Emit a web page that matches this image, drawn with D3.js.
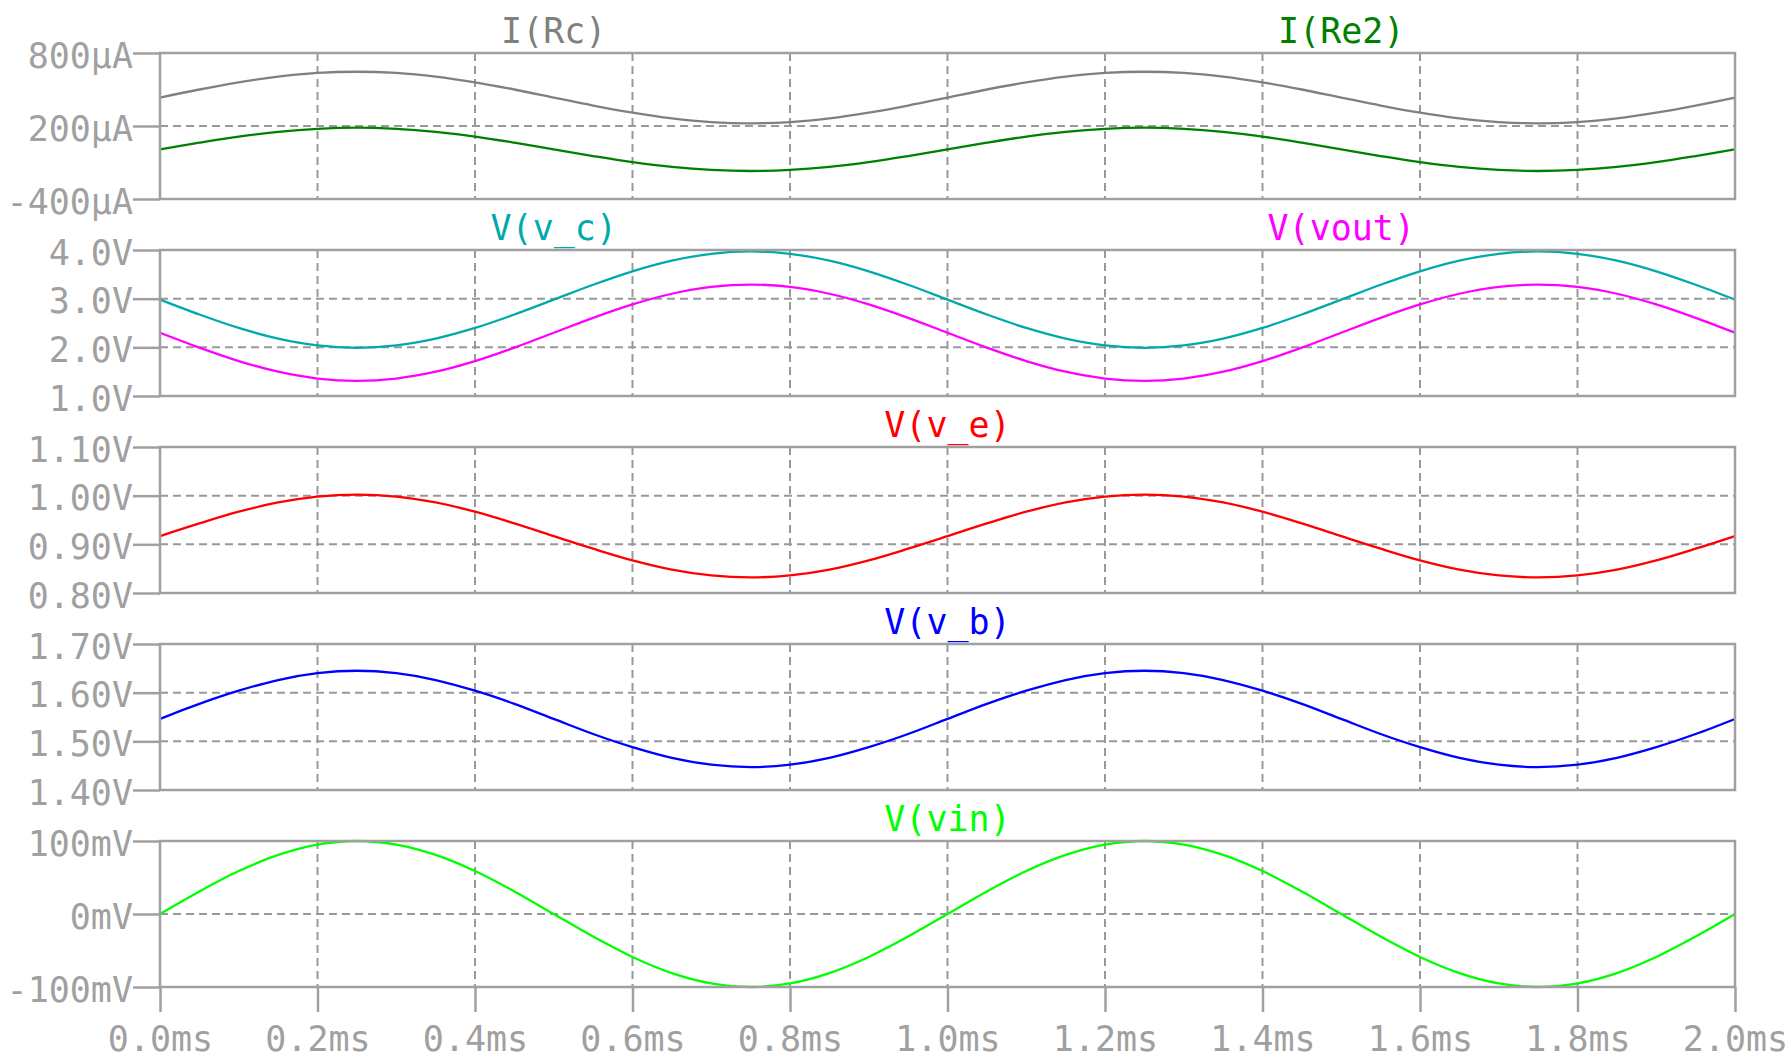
<!DOCTYPE html>
<html><head><meta charset="utf-8">
<script src="https://cdn.jsdelivr.net/npm/d3@7"></script>
<style>
html,body{margin:0;padding:0;background:#fff;}
svg{display:block;}
text{font-family:"DejaVu Sans Mono","Liberation Mono",monospace;}
</style></head>
<body>
<svg id="chart" width="1791" height="1059"></svg>
<script>
// time axis (ms)
const time = [0,0.05,0.1,0.15,0.2,0.25,0.3,0.35,0.4,0.45,0.5,0.55,0.6,0.65,0.7,0.75,0.8,0.85,0.9,0.95,
  1.0,1.05,1.1,1.15,1.2,1.25,1.3,1.35,1.4,1.45,1.5,1.55,1.6,1.65,1.7,1.75,1.8,1.85,1.9,1.95,2.0];
const xTicks = [0,0.2,0.4,0.6,0.8,1.0,1.2,1.4,1.6,1.8,2.0];
const xTickLabels = ["0.0ms","0.2ms","0.4ms","0.6ms","0.8ms","1.0ms","1.2ms","1.4ms","1.6ms","1.8ms","2.0ms"];

// I(Rc) in µA
const iRc = [434,500,559,606,636,646,636,606,559,500,434,368,309,262,232,222,232,262,309,368,
  434,500,559,606,636,646,636,606,559,500,434,368,309,262,232,222,232,262,309,368,434];
// I(Re2) in µA
const iRe2 = [8,63,113,152,177,186,177,152,113,63,8,-47,-97,-136,-161,-170,-161,-136,-97,-47,
  8,63,113,152,177,186,177,152,113,63,8,-47,-97,-136,-161,-170,-161,-136,-97,-47,8];
// V(v_c) in V
const vC = [2.98,2.674,2.398,2.179,2.039,1.99,2.039,2.179,2.398,2.674,2.98,3.286,3.562,3.781,3.921,3.97,3.921,3.781,3.562,3.286,
  2.98,2.674,2.398,2.179,2.039,1.99,2.039,2.179,2.398,2.674,2.98,3.286,3.562,3.781,3.921,3.97,3.921,3.781,3.562,3.286,2.98];
// V(vout) in V
const vOut = [2.30,1.994,1.718,1.499,1.359,1.31,1.359,1.499,1.718,1.994,2.30,2.606,2.882,3.101,3.241,3.29,3.241,3.101,2.882,2.606,
  2.30,1.994,1.718,1.499,1.359,1.31,1.359,1.499,1.718,1.994,2.30,2.606,2.882,3.101,3.241,3.29,3.241,3.101,2.882,2.606,2.30];
// V(v_e) in V
const vE = [0.917,0.943,0.967,0.986,0.998,1.002,0.998,0.986,0.967,0.943,0.917,0.891,0.867,0.848,0.836,0.832,0.836,0.848,0.867,0.891,
  0.917,0.943,0.967,0.986,0.998,1.002,0.998,0.986,0.967,0.943,0.917,0.891,0.867,0.848,0.836,0.832,0.836,0.848,0.867,0.891,0.917];
// V(v_b) in V
const vB = [1.546,1.577,1.604,1.626,1.640,1.645,1.640,1.626,1.604,1.577,1.546,1.515,1.488,1.466,1.452,1.447,1.452,1.466,1.488,1.515,
  1.546,1.577,1.604,1.626,1.640,1.645,1.640,1.626,1.604,1.577,1.546,1.515,1.488,1.466,1.452,1.447,1.452,1.466,1.488,1.515,1.546];
// V(vin) in mV
const vIn = [0,30.9,58.8,80.9,95.1,100,95.1,80.9,58.8,30.9,0,-30.9,-58.8,-80.9,-95.1,-100,-95.1,-80.9,-58.8,-30.9,
  0,30.9,58.8,80.9,95.1,100,95.1,80.9,58.8,30.9,0,-30.9,-58.8,-80.9,-95.1,-100,-95.1,-80.9,-58.8,-30.9,0];

// panel tick values and labels
const p1Ticks = [800,200,-400], p1Labels = ["800µA","200µA","-400µA"];
const p2Ticks = [4,3,2,1], p2Labels = ["4.0V","3.0V","2.0V","1.0V"];
const p3Ticks = [1.1,1.0,0.9,0.8], p3Labels = ["1.10V","1.00V","0.90V","0.80V"];
const p4Ticks = [1.7,1.6,1.5,1.4], p4Labels = ["1.70V","1.60V","1.50V","1.40V"];
const p5Ticks = [100,0,-100], p5Labels = ["100mV","0mV","-100mV"];

const panels = [
  {ticks:p1Ticks, labels:p1Labels, domain:[-400,800], series:[{name:"I(Rc)",v:iRc,color:"#808080",pos:0.25},{name:"I(Re2)",v:iRe2,color:"#008000",pos:0.75}]},
  {ticks:p2Ticks, labels:p2Labels, domain:[1,4], series:[{name:"V(v_c)",v:vC,color:"#00aaaa",pos:0.25},{name:"V(vout)",v:vOut,color:"#ff00ff",pos:0.75}]},
  {ticks:p3Ticks, labels:p3Labels, domain:[0.8,1.1], series:[{name:"V(v_e)",v:vE,color:"#ff0000",pos:0.5}]},
  {ticks:p4Ticks, labels:p4Labels, domain:[1.4,1.7], series:[{name:"V(v_b)",v:vB,color:"#0000ff",pos:0.5}]},
  {ticks:p5Ticks, labels:p5Labels, domain:[-100,100], series:[{name:"V(vin)",v:vIn,color:"#00ff00",pos:0.5}]}
];

const svg = d3.select("#chart");
const left = 160, right = 1735;
const panelTops = [53,250,447,644,841], panelH = 146;
const frameColor = "#a0a0a0", gridColor = "#999999", labelColor = "#a0a0a0";
const fs = 35;

const x = d3.scaleLinear().domain([0,2]).range([left,right]);

panels.forEach((p,i) => {
  const top = panelTops[i], bottom = top + panelH;
  const y = d3.scaleLinear().domain(p.domain).range([bottom, top]);
  const g = svg.append("g");

  // vertical grid
  g.selectAll("line.vg").data(xTicks.slice(1,-1)).join("line")
    .attr("x1",d=>x(d)).attr("x2",d=>x(d)).attr("y1",top).attr("y2",bottom)
    .attr("stroke",gridColor).attr("stroke-width",2).attr("stroke-dasharray","8,5");
  // horizontal grid (inner ticks)
  g.selectAll("line.hg").data(p.ticks.filter(t=>t!==p.domain[0]&&t!==p.domain[1])).join("line")
    .attr("x1",left).attr("x2",right).attr("y1",d=>y(d)).attr("y2",d=>y(d))
    .attr("stroke",gridColor).attr("stroke-width",2).attr("stroke-dasharray","8,5");

  // series
  p.series.forEach(s => {
    const line = d3.line().x((d,j)=>x(time[j])).y(d=>y(d)).curve(d3.curveMonotoneX);
    g.append("path").datum(s.v).attr("d",line).attr("fill","none")
      .attr("stroke",s.color).attr("stroke-width",2.3);
    g.append("text").attr("x", left + (right-left)*s.pos).attr("y", top-10)
      .attr("text-anchor","middle").attr("font-size",fs).attr("fill",s.color).text(s.name);
  });

  // frame
  g.append("rect").attr("x",left).attr("y",top).attr("width",right-left).attr("height",panelH)
    .attr("fill","none").attr("stroke",frameColor).attr("stroke-width",2.5);

  // left axis
  const ax = d3.axisLeft(y).tickValues(p.ticks).tickFormat((d,k)=>p.labels[k]).tickSize(27).tickPadding(0);
  const ag = svg.append("g").attr("transform",`translate(${left},0)`).call(ax);
  ag.select(".domain").remove();
  ag.selectAll(".tick line").attr("stroke",frameColor).attr("stroke-width",2.5);
  ag.selectAll(".tick text").attr("fill",labelColor).attr("font-size",fs)
    .attr("font-family","DejaVu Sans Mono, monospace").attr("dy","0.40em");

  if (i === panels.length-1) {
    const bx = d3.axisBottom(x).tickValues(xTicks).tickFormat((d,k)=>xTickLabels[k]).tickSize(25).tickPadding(14);
    const bg = svg.append("g").attr("transform",`translate(0,${bottom})`).call(bx);
    bg.select(".domain").remove();
    bg.selectAll(".tick line").attr("stroke",frameColor).attr("stroke-width",2.5);
    bg.selectAll(".tick text").attr("fill",labelColor).attr("font-size",fs)
      .attr("font-family","DejaVu Sans Mono, monospace");
  }
});
</script>
</body></html>
